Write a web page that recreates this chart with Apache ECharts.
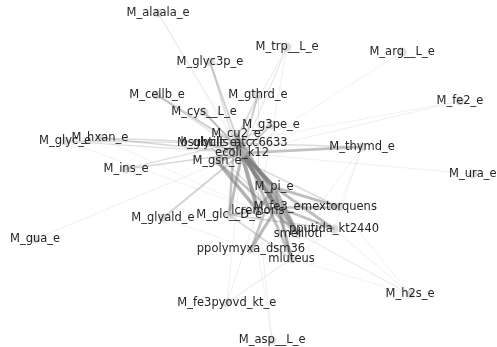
<!DOCTYPE html>
<html>
<head>
<meta charset="utf-8">
<script src="https://cdn.jsdelivr.net/npm/echarts@6/dist/echarts.min.js"></script>
<style>
  html, body { margin: 0; padding: 0; background: #fff; }
  #chart { width: 497px; height: 347px; }
</style>
</head>
<body>
<div id="chart"></div>
<script>
// Node names and their layout positions (layout space -1..1)
const nodeNames = [
  'ecoli_k12', 'bsubtilis_atcc6633', 'lcremoris', 'mextorquens',
  'pputida_kt2440', 'smeliloti', 'ppolymyxa_dsm36', 'mluteus',
  'M_alaala_e', 'M_trp__L_e', 'M_arg__L_e', 'M_glyc3p_e', 'M_cellb_e',
  'M_gthrd_e', 'M_fe2_e', 'M_cys__L_e', 'M_g3pe_e', 'M_cu2_e',
  'M_hxan_e', 'M_glyc_e', 'M_glyclt_e', 'M_thymd_e', 'M_gsn_e',
  'M_ins_e', 'M_ura_e', 'M_pi_e', 'M_fe3_e', 'M_glc__D_e',
  'M_glyald_e', 'M_gua_e', 'M_h2s_e', 'M_fe3pyovd_kt_e', 'M_asp__L_e'
];
const nodeX = [
  -0.026, -0.058, 0.038, 0.364,
  0.344, 0.199, 0.010, 0.173,
  -0.364, 0.155, 0.618, -0.155, -0.368,
  0.038, 0.851, -0.179, 0.091, -0.050,
  -0.598, -0.738, -0.167, 0.457, -0.127,
  -0.493, 0.903, 0.103, 0.115, -0.078,
  -0.344, -0.859, 0.650, -0.087, 0.095
];
const nodeY = [
  0.118, 0.176, -0.216, -0.193,
  -0.320, -0.349, -0.435, -0.493,
  0.925, 0.729, 0.700, 0.643, 0.452,
  0.452, 0.418, 0.354, 0.280, 0.228,
  0.205, 0.187, 0.176, 0.153, 0.072,
  0.026, -0.003, -0.078, -0.193, -0.239,
  -0.256, -0.378, -0.695, -0.746, -0.960
];

// Edges: organism -> metabolite with an exchange weight in 0..1
const edgeSource = [
  'ecoli_k12', 'bsubtilis_atcc6633',
  'ecoli_k12', 'bsubtilis_atcc6633', 'lcremoris',
  'ecoli_k12',
  'ecoli_k12', 'bsubtilis_atcc6633', 'lcremoris',
  'bsubtilis_atcc6633', 'ecoli_k12',
  'ecoli_k12', 'bsubtilis_atcc6633', 'lcremoris',
  'ecoli_k12', 'bsubtilis_atcc6633',
  'ecoli_k12', 'bsubtilis_atcc6633',
  'ecoli_k12', 'bsubtilis_atcc6633',
  'ecoli_k12', 'bsubtilis_atcc6633', 'lcremoris', 'smeliloti', 'mluteus',
  'ecoli_k12', 'bsubtilis_atcc6633', 'lcremoris',
  'ecoli_k12', 'bsubtilis_atcc6633', 'lcremoris',
  'ecoli_k12', 'mextorquens', 'smeliloti',
  'ecoli_k12', 'bsubtilis_atcc6633', 'mextorquens', 'smeliloti', 'pputida_kt2440',
  'ecoli_k12', 'bsubtilis_atcc6633', 'lcremoris', 'smeliloti',
  'ecoli_k12', 'bsubtilis_atcc6633',
  'ecoli_k12',
  'ecoli_k12', 'bsubtilis_atcc6633', 'mextorquens', 'pputida_kt2440', 'smeliloti', 'ppolymyxa_dsm36', 'mluteus', 'lcremoris',
  'ecoli_k12', 'bsubtilis_atcc6633', 'mextorquens', 'pputida_kt2440', 'smeliloti', 'ppolymyxa_dsm36', 'mluteus',
  'ecoli_k12', 'bsubtilis_atcc6633', 'lcremoris', 'pputida_kt2440', 'mluteus',
  'ecoli_k12', 'ppolymyxa_dsm36',
  'ecoli_k12',
  'mextorquens', 'pputida_kt2440', 'smeliloti', 'lcremoris', 'mluteus',
  'ecoli_k12', 'lcremoris', 'mluteus', 'pputida_kt2440',
  'lcremoris', 'ecoli_k12'
];
const edgeTarget = [
  'M_alaala_e', 'M_alaala_e',
  'M_trp__L_e', 'M_trp__L_e', 'M_trp__L_e',
  'M_arg__L_e',
  'M_glyc3p_e', 'M_glyc3p_e', 'M_glyc3p_e',
  'M_cellb_e', 'M_cellb_e',
  'M_gthrd_e', 'M_gthrd_e', 'M_gthrd_e',
  'M_fe2_e', 'M_fe2_e',
  'M_cys__L_e', 'M_cys__L_e',
  'M_g3pe_e', 'M_g3pe_e',
  'M_cu2_e', 'M_cu2_e', 'M_cu2_e', 'M_cu2_e', 'M_cu2_e',
  'M_hxan_e', 'M_hxan_e', 'M_hxan_e',
  'M_glyc_e', 'M_glyc_e', 'M_glyc_e',
  'M_glyclt_e', 'M_glyclt_e', 'M_glyclt_e',
  'M_thymd_e', 'M_thymd_e', 'M_thymd_e', 'M_thymd_e', 'M_thymd_e',
  'M_gsn_e', 'M_gsn_e', 'M_gsn_e', 'M_gsn_e',
  'M_ins_e', 'M_ins_e',
  'M_ura_e',
  'M_pi_e', 'M_pi_e', 'M_pi_e', 'M_pi_e', 'M_pi_e', 'M_pi_e', 'M_pi_e', 'M_pi_e',
  'M_fe3_e', 'M_fe3_e', 'M_fe3_e', 'M_fe3_e', 'M_fe3_e', 'M_fe3_e', 'M_fe3_e',
  'M_glc__D_e', 'M_glc__D_e', 'M_glc__D_e', 'M_glc__D_e', 'M_glc__D_e',
  'M_glyald_e', 'M_glyald_e',
  'M_gua_e',
  'M_h2s_e', 'M_h2s_e', 'M_h2s_e', 'M_h2s_e', 'M_h2s_e',
  'M_fe3pyovd_kt_e', 'M_fe3pyovd_kt_e', 'M_fe3pyovd_kt_e', 'M_fe3pyovd_kt_e',
  'M_asp__L_e', 'M_asp__L_e'
];
const edgeWeight = [
  0.10, 0.06,
  0.15, 0.12, 0.08,
  0.06,
  0.35, 0.20, 0.08,
  0.40, 0.20,
  0.40, 0.25, 0.12,
  0.08, 0.06,
  0.40, 0.25,
  0.40, 0.25,
  0.70, 0.50, 0.85, 0.70, 0.60,
  0.30, 0.25, 0.06,
  0.20, 0.20, 0.06,
  0.45, 0.25, 0.20,
  0.55, 0.25, 0.06, 0.06, 0.06,
  0.60, 0.50, 0.75, 0.55,
  0.30, 0.20,
  0.08,
  0.90, 0.80, 0.60, 0.60, 0.70, 0.50, 0.60, 0.65,
  0.90, 0.80, 0.55, 0.55, 0.60, 0.65, 0.50,
  0.60, 0.50, 0.55, 0.30, 0.30,
  0.35, 0.06,
  0.08,
  0.06, 0.08, 0.06, 0.06, 0.05,
  0.08, 0.08, 0.06, 0.06,
  0.08, 0.06
];

const nodes = nodeNames.map((name, i) => ({
  name: name,
  value: [nodeX[i], nodeY[i]]
}));

const links = edgeSource.map((s, i) => ({
  source: s,
  target: edgeTarget[i],
  lineStyle: {
    width: 0.5 + 4 * edgeWeight[i],
    opacity: 0.1 + 0.65 * edgeWeight[i]
  }
}));

const chart = echarts.init(document.getElementById('chart'), null, { renderer: 'canvas' });
chart.setOption({
  backgroundColor: '#ffffff',
  animation: false,
  grid: { left: 0, right: 0, top: 0, bottom: 0 },
  xAxis: { type: 'value', min: -1, max: 1, show: false },
  yAxis: { type: 'value', min: -1, max: 1, show: false },
  series: [{
    type: 'graph',
    coordinateSystem: 'cartesian2d',
    symbol: 'circle',
    symbolSize: 9,
    itemStyle: { color: 'rgba(200,200,200,0.6)' },
    lineStyle: { color: '#7a7a7a', curveness: 0 },
    label: {
      show: true,
      position: 'inside',
      fontFamily: 'DejaVu Sans',
      fontSize: 11.5,
      color: '#262626'
    },
    emphasis: { disabled: true },
    data: nodes,
    links: links
  }]
});
</script>
</body>
</html>
